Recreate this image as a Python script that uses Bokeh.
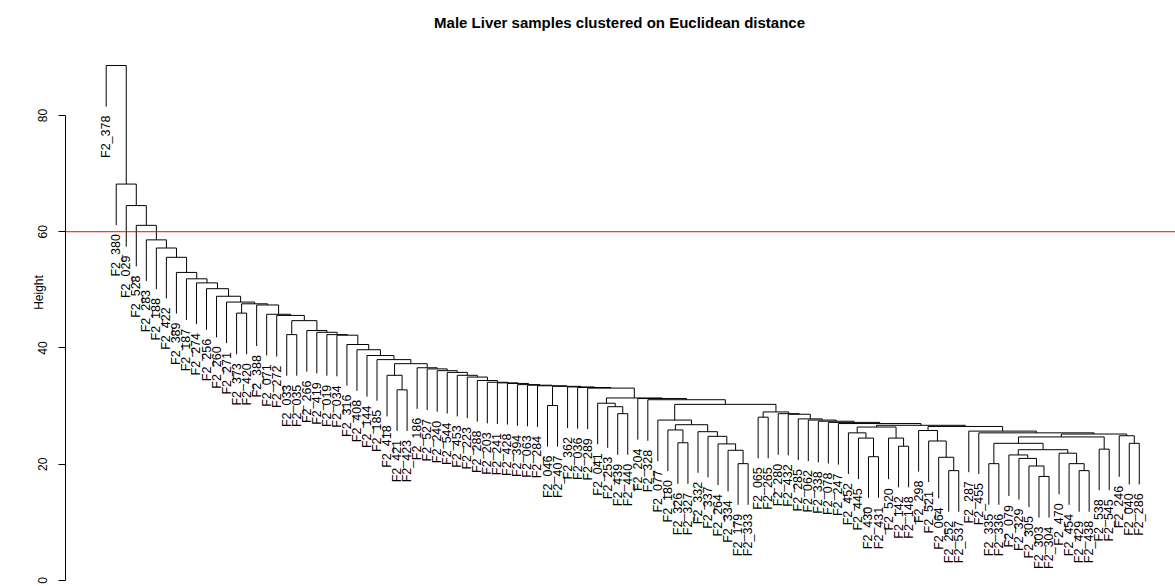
import math
from bokeh.plotting import figure
from bokeh.models import Range1d, Span, FixedTicker
from bokeh.core.properties import value
from bokeh.embed import file_html
from bokeh.resources import INLINE

title_text = "Male Liver samples clustered on Euclidean distance"
y_label = "Height"
y_ticks = [0, 20, 40, 60, 80]
cut_height = 60

labels = ["F2_378","F2_380","F2_029","F2_528","F2_283","F2_188","F2_422","F2_389","F2_187","F2_274",
          "F2_256","F2_260","F2_271","F2_373","F2_420","F2_388","F2_071","F2_272","F2_033","F2_035",
          "F2_266","F2_419","F2_019","F2_034","F2_316","F2_408","F2_144","F2_185","F2_418","F2_421",
          "F2_423","F2_186","F2_527","F2_240","F2_544","F2_453","F2_223","F2_288","F2_203","F2_241",
          "F2_428","F2_394","F2_063","F2_284","F2_046","F2_407","F2_362","F2_036","F2_289","F2_041",
          "F2_253","F2_439","F2_440","F2_204","F2_328","F2_077","F2_180","F2_326","F2_327","F2_332",
          "F2_337","F2_264","F2_334","F2_179","F2_333","F2_065","F2_265","F2_280","F2_432","F2_285",
          "F2_062","F2_338","F2_078","F2_247","F2_452","F2_445","F2_430","F2_431","F2_520","F2_142",
          "F2_148","F2_298","F2_521","F2_064","F2_252","F2_537","F2_287","F2_455","F2_335","F2_336",
          "F2_079","F2_329","F2_305","F2_303","F2_304","F2_470","F2_454","F2_429","F2_438","F2_538",
          "F2_545","F2_246","F2_040","F2_286"]

# merges: (node, left child, right child, height)
merges = [
    ("r_303_304", "F2_303", "F2_304", 17.9),
    ("r_305", "F2_305", "r_303_304", 19.7),
    ("r_329", "F2_329", "r_305", 21.0),
    ("r_079", "F2_079", "r_329", 21.6),
    ("r_429_438", "F2_429", "F2_438", 18.9),
    ("r_454", "F2_454", "r_429_438", 20.1),
    ("r_470", "F2_470", "r_454", 21.9),
    ("r_wx", "r_079", "r_470", 22.5),
    ("r_335_336", "F2_335", "F2_336", 20.1),
    ("r_v1", "r_335_336", "r_wx", 23.6),
    ("r_538_545", "F2_538", "F2_545", 22.6),
    ("r_v", "r_v1", "r_538_545", 24.7),
    ("r_040_286", "F2_040", "F2_286", 23.6),
    ("r_246", "F2_246", "r_040_286", 24.9),
    ("r_vy", "r_v", "r_246", 25.2),
    ("r_455", "F2_455", "r_vy", 25.4),
    ("r_287", "F2_287", "r_455", 25.7),
    ("r_252_537", "F2_252", "F2_537", 18.9),
    ("r_064", "F2_064", "r_252_537", 21.2),
    ("r_521", "F2_521", "r_064", 24.0),
    ("r_298", "F2_298", "r_521", 25.8),
    ("r_tz", "r_298", "r_287", 26.5),
    ("r_430_431", "F2_430", "F2_431", 21.3),
    ("r_445", "F2_445", "r_430_431", 24.5),
    ("r_452", "F2_452", "r_445", 25.4),
    ("r_142_148", "F2_142", "F2_148", 23.1),
    ("r_520", "F2_520", "r_142_148", 24.5),
    ("r_s12", "r_452", "r_520", 26.4),
    ("r_q9", "r_s12", "r_tz", 26.7),
    ("q8", "F2_247", "r_q9", 27.0),
    ("q7", "F2_078", "q8", 27.2),
    ("q6", "F2_338", "q7", 27.4),
    ("q5", "F2_062", "q6", 27.6),
    ("q4", "F2_285", "q5", 27.8),
    ("q3", "F2_432", "q4", 28.6),
    ("q2", "F2_280", "q3", 28.7),
    ("c065", "F2_065", "F2_265", 28.1),
    ("q", "c065", "q2", 29.0),
    ("c179", "F2_179", "F2_333", 20.1),
    ("c334", "F2_334", "c179", 22.4),
    ("c264", "F2_264", "c334", 23.5),
    ("c337", "F2_337", "c264", 24.8),
    ("c332", "F2_332", "c337", 25.6),
    ("c326", "F2_326", "F2_327", 23.7),
    ("c180", "F2_180", "c326", 25.9),
    ("c_j", "c180", "c332", 26.8),
    ("c077", "F2_077", "c_j", 27.6),
    ("p", "c077", "q", 30.3),
    ("h1", "F2_328", "p", 31.1),
    ("h2", "F2_204", "h1", 31.3),
    ("g439", "F2_439", "F2_440", 28.7),
    ("g253", "F2_253", "g439", 29.9),
    ("g041", "F2_041", "g253", 30.5),
    ("h3", "g041", "h2", 31.4),
    ("b17", "F2_289", "h3", 33.1),
    ("b16", "F2_036", "b17", 33.2),
    ("b15", "F2_362", "b16", 33.3),
    ("c046", "F2_046", "F2_407", 30.1),
    ("b14", "c046", "b15", 33.4),
    ("b13", "F2_284", "b14", 33.5),
    ("b12", "F2_063", "b13", 33.6),
    ("b11", "F2_394", "b12", 33.7),
    ("b10", "F2_428", "b11", 33.9),
    ("b9", "F2_241", "b10", 34.0),
    ("b8", "F2_203", "b9", 34.1),
    ("b7", "F2_288", "b8", 34.4),
    ("b6", "F2_223", "b7", 35.0),
    ("b5", "F2_453", "b6", 35.3),
    ("b4", "F2_544", "b5", 35.8),
    ("b3", "F2_240", "b4", 36.1),
    ("b2", "F2_527", "b3", 36.4),
    ("b1", "F2_186", "b2", 36.6),
    ("c421", "F2_421", "F2_423", 32.8),
    ("c418", "F2_418", "c421", 35.3),
    ("n1", "c418", "b1", 37.3),
    ("a26", "F2_185", "n1", 38.0),
    ("a25", "F2_144", "a26", 38.7),
    ("a24", "F2_408", "a25", 39.7),
    ("a23", "F2_316", "a24", 40.6),
    ("a22", "F2_034", "a23", 42.2),
    ("a21", "F2_019", "a22", 42.3),
    ("a20", "F2_419", "a21", 42.7),
    ("a19", "F2_266", "a20", 43.0),
    ("c033", "F2_033", "F2_035", 42.3),
    ("a18", "c033", "a19", 44.7),
    ("a17", "F2_272", "a18", 45.6),
    ("a16", "F2_071", "a17", 45.8),
    ("a15", "F2_388", "a16", 47.4),
    ("c373", "F2_373", "F2_420", 46.0),
    ("a14", "c373", "a15", 47.6),
    ("a13", "F2_271", "a14", 47.9),
    ("a12", "F2_260", "a13", 48.9),
    ("a11", "F2_256", "a12", 50.2),
    ("a10", "F2_274", "a11", 51.2),
    ("a9", "F2_187", "a10", 51.9),
    ("a8", "F2_389", "a9", 53.0),
    ("a7", "F2_422", "a8", 55.6),
    ("a6", "F2_188", "a7", 57.2),
    ("a5", "F2_283", "a6", 58.6),
    ("a4", "F2_528", "a5", 61.1),
    ("a3", "F2_029", "a4", 64.5),
    ("a2", "F2_380", "a3", 68.2),
    ("a1", "F2_378", "a2", 88.6),
]

# ---- layout of the dendrogram (R plot.hclust style, hang = 0.1) ----
heights = [m[3] for m in merges]
hang = 0.1 * (max(heights) - min(heights))
xpos = {lab: i + 1 for i, lab in enumerate(labels)}
ypos = {}
x0s, y0s, x1s, y1s = [], [], [], []
for node, left, right, h in merges:
    for child in (left, right):
        if child in labels:
            ypos[child] = h - hang
    xl, xr = xpos[left], xpos[right]
    xpos[node] = (xl + xr) / 2.0
    ypos[node] = h
    x0s += [xl, xl, xr]
    y0s += [h, h, h]
    x1s += [xr, xl, xr]
    y1s += [h, ypos[left], ypos[right]]

p = figure(width=1175, height=584, output_backend="svg", toolbar_location=None,
           title=None, x_axis_location=None, y_axis_location="left",
           x_range=Range1d(-3.058, 107.61), y_range=Range1d(-0.688, 99.78),
           min_border_left=65, min_border_right=0, min_border_top=0, min_border_bottom=0)
p.outline_line_color = None
p.grid.visible = False
p.background_fill_color = "white"
p.border_fill_color = "white"

p.segment(x0=x0s, y0=y0s, x1=x1s, y1=y1s, line_color="black", line_width=1)

lx = [xpos[l] for l in labels]
ly = [ypos[l] for l in labels]
p.text(x=lx, y=ly, text=labels, angle=math.pi / 2, text_align="right",
       text_baseline="middle", y_offset=9, text_font=value("Liberation Sans"),
       text_font_size="12.5px", text_color="black")

p.add_layout(Span(location=cut_height, dimension="width", line_color="red", line_width=1))

p.text(x=[52.18], y=[96.0], text=[title_text], text_align="center", text_baseline="middle",
       text_font=value("Liberation Sans"), text_font_size="15px", text_font_style="bold",
       text_color="black")

ax = p.yaxis[0]
ax.ticker = FixedTicker(ticks=y_ticks)
ax.bounds = (0, 80)
ax.minor_tick_line_color = None
ax.major_tick_in = 0
ax.major_tick_out = 7
ax.axis_line_color = "black"
ax.major_tick_line_color = "black"
ax.major_label_orientation = "parallel"
ax.major_label_standoff = 11
ax.major_label_text_font = "Liberation Sans"
ax.major_label_text_font_size = "12px"
ax.major_label_text_color = "black"
ax.axis_label = y_label
ax.axis_label_standoff = -10
ax.axis_label_text_font = "Liberation Sans"
ax.axis_label_text_font_size = "12px"
ax.axis_label_text_font_style = "normal"
ax.axis_label_text_color = "black"

open("out.html", "w").write(file_html(p, INLINE))
